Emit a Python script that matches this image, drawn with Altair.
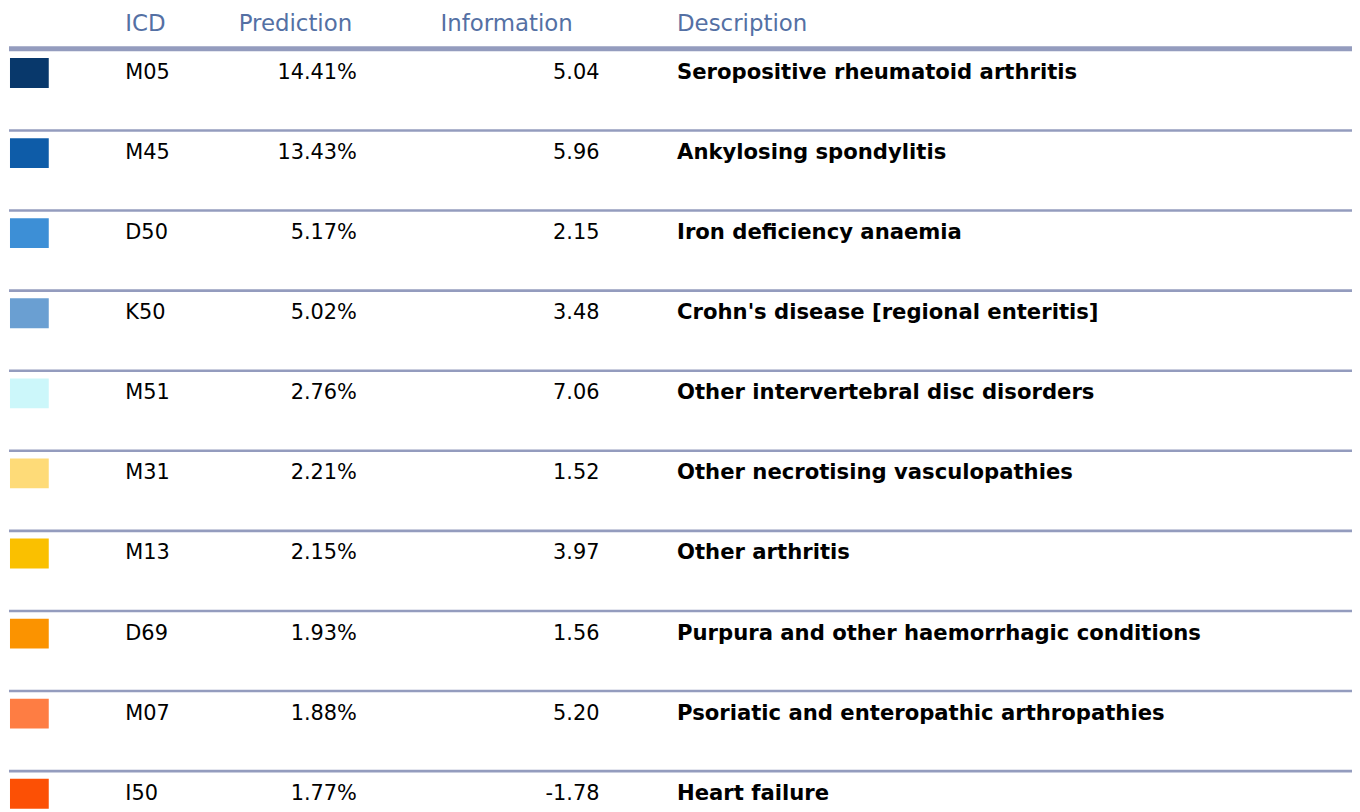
import altair as alt
import pandas as pd

icd = ["M05", "M45", "D50", "K50", "M51", "M31", "M13", "D69", "M07", "I50"]
prediction = [14.41, 13.43, 5.17, 5.02, 2.76, 2.21, 2.15, 1.93, 1.88, 1.77]
information = [5.04, 5.96, 2.15, 3.48, 7.06, 1.52, 3.97, 1.56, 5.20, -1.78]
description = [
    "Seropositive rheumatoid arthritis",
    "Ankylosing spondylitis",
    "Iron deficiency anaemia",
    "Crohn's disease [regional enteritis]",
    "Other intervertebral disc disorders",
    "Other necrotising vasculopathies",
    "Other arthritis",
    "Purpura and other haemorrhagic conditions",
    "Psoriatic and enteropathic arthropathies",
    "Heart failure",
]
colors = ["#08386b", "#0e5ca8", "#3d8fd6", "#6a9fd2", "#ccf7fa",
          "#fedb78", "#fac000", "#fb9300", "#fe7d43", "#fc5005"]
headers = ["ICD", "Prediction", "Information", "Description"]

df = pd.DataFrame({
    "row": list(range(len(icd))),
    "icd": icd,
    "pred": prediction,
    "info": information,
    "desc": description,
    "color": colors,
})

FONT = "DejaVu Sans"
W, H = 1352, 804
PITCH = 80.56
yscale = alt.Scale(domain=[-63 / PITCH, -63 / PITCH + H / PITCH], reverse=True, nice=False, zero=False)
Y = alt.Y("row:Q", scale=yscale, axis=None)

base = alt.Chart(df)

squares = base.transform_calculate(
    top="datum.row - 15/%f" % PITCH, bot="datum.row + 15/%f" % PITCH
).mark_rect().encode(
    x=alt.value(2), x2=alt.value(41),
    y=alt.Y("top:Q", scale=yscale, axis=None), y2="bot:Q",
    color=alt.Color("color:N", scale=None),
)

row_rules = base.transform_filter("datum.row > 0").mark_rule(
    color="#949cbe", strokeWidth=2.6, yOffset=-22.8
).encode(x=alt.value(1), x2=alt.value(W), y=Y)

head_rule = alt.Chart(alt.Data(values=[{}])).mark_rule(
    color="#949cbe", strokeWidth=5
).encode(x=alt.value(1), x2=alt.value(W), y=alt.value(38.5))

icd_text = base.mark_text(align="left", baseline="middle", font=FONT, fontSize=21, color="black").encode(
    x=alt.value(118), y=Y, text="icd:N")
pred_text = base.transform_calculate(lbl="format(datum.pred, '.2f') + '%'").mark_text(
    align="right", baseline="middle", font=FONT, fontSize=21, color="black").encode(
    x=alt.value(351), y=Y, text="lbl:N")
info_text = base.transform_calculate(
    lbl2="(datum.info < 0 ? '-' : '') + format(abs(datum.info), '.2f')"
).mark_text(
    align="right", baseline="middle", font=FONT, fontSize=21, color="black").encode(
    x=alt.value(595), y=Y, text="lbl2:N")
desc_text = base.mark_text(align="left", baseline="middle", font=FONT, fontSize=21.3,
                           fontWeight="bold", color="black").encode(
    x=alt.value(673), y=Y, text="desc:N")

head_x = [118, 232, 435, 673]
head_layers = []
for h, hx in zip(headers, head_x):
    head_layers.append(
        alt.Chart(alt.Data(values=[{}])).mark_text(
            align="left", baseline="middle", font=FONT, fontSize=23, color="#5470a4"
        ).encode(x=alt.value(hx), y=alt.value(14), text=alt.value(h))
    )

chart = alt.layer(
    head_rule, row_rules, squares, icd_text, pred_text, info_text, desc_text, *head_layers
).properties(
    width=W, height=H, padding=0, autosize=alt.AutoSizeParams(type="none")
).configure_view(stroke=None)

chart.save("out.html", embed_options={"renderer": "svg", "actions": False})
